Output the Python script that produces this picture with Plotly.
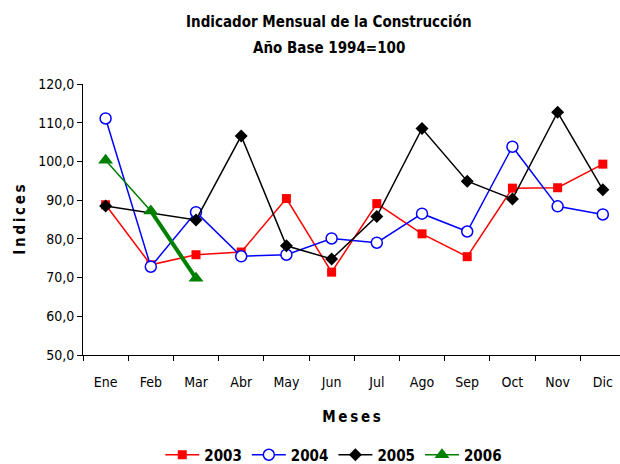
import plotly.graph_objects as go

# Monthly construction index, base year 1994 = 100 (None = no reading)
meses = ["Ene", "Feb", "Mar", "Abr", "May", "Jun", "Jul", "Ago", "Sep", "Oct", "Nov", "Dic"]
y2003 = [88.8, 73.3, 75.9, 76.6, 90.4, 71.4, 89.1, 81.3, 75.4, 93.1, 93.2, 99.3]
y2004 = [111.1, 72.8, 86.9, 75.5, 75.9, 80.1, 79.0, 86.5, 81.9, 103.8, 88.4, 86.3]
y2005 = [88.5, None, 84.9, 106.6, 78.2, 74.8, 85.8, 108.5, 94.9, 90.3, 112.7, 92.7]
y2006 = [100.3, 87.2, 69.8]

FONT = "DejaVu Sans Condensed, Liberation Sans Narrow, Arial Narrow, sans-serif"
W, H = 620, 464
M_T, M_B = 84, 109
PLOT_H = H - M_T - M_B

fig = go.Figure()

fig.add_trace(go.Scatter(
    x=meses, y=y2003, name="2003", mode="lines+markers",
    line=dict(color="#ff0000", width=1.5),
    marker=dict(symbol="square", size=9, color="#ff0000"),
))
fig.add_trace(go.Scatter(
    x=meses, y=y2004, name="2004", mode="lines+markers",
    line=dict(color="#0000ff", width=1.5),
    marker=dict(symbol="circle", size=11, color="white",
                line=dict(color="#0000ff", width=1.5)),
))
fig.add_trace(go.Scatter(
    x=meses, y=y2005, name="2005", mode="lines+markers", connectgaps=True,
    line=dict(color="#000000", width=1.5),
    marker=dict(symbol="diamond", size=10, color="#000000"),
))
# heavier stroke on the latest 2006 segment
fig.add_trace(go.Scatter(
    x=meses[1:len(y2006)], y=y2006[1:], mode="lines", showlegend=False,
    line=dict(color="#008000", width=4), hoverinfo="skip",
))
fig.add_trace(go.Scatter(
    x=meses[:len(y2006)], y=y2006, name="2006", mode="lines+markers",
    line=dict(color="#008000", width=1.5),
    marker=dict(symbol="triangle-up", size=13, color="#008000"),
))

fig.update_layout(
    width=W, height=H,
    margin=dict(l=83, r=0, t=M_T, b=M_B, autoexpand=False),
    paper_bgcolor="white", plot_bgcolor="white",
    separators=",.",
    font=dict(family=FONT, size=14, color="black"),
    showlegend=True,
    legend=dict(orientation="h", x=0.467, xanchor="center", xref="paper",
                y=(H - 455) / H, yref="container", yanchor="middle",
                font=dict(family=FONT, size=15, color="black", weight="bold"),
                itemwidth=34, tracegroupgap=0),
)
fig.update_xaxes(
    type="category", range=[-0.5, 11.38], automargin=False,
    showline=True, linecolor="black", linewidth=1,
    ticks="outside", tickson="boundaries", ticklen=5, tickcolor="black",
    showgrid=False, zeroline=False,
    tickfont=dict(family=FONT, size=14), ticklabelstandoff=14,
    title=dict(text="M\u2009e\u2009s\u2009e\u2009s", standoff=22,
               font=dict(family=FONT, size=15, weight="bold")),
)
fig.update_yaxes(
    range=[50, 120], dtick=10, tickformat=".1f", automargin=False,
    showline=True, linecolor="black", linewidth=1,
    ticks="outside", ticklen=5, tickcolor="black",
    showgrid=False, zeroline=False,
    tickfont=dict(family=FONT, size=14),
    title=dict(text="I\u2009n\u2009d\u2009i\u2009c\u2009e\u2009s", standoff=8,
               font=dict(family=FONT, size=15, weight="bold")),
)

# two-line heading
for txt, ypx in [("Indicador Mensual de la Construcción", 22), ("Año Base 1994=100", 48)]:
    fig.add_annotation(
        text=txt, xref="paper", yref="paper", x=0.458,
        y=(H - M_B - ypx) / PLOT_H,
        xanchor="center", yanchor="middle", showarrow=False,
        font=dict(family=FONT, size=15, weight="bold"),
    )

fig.write_html("out.html")
